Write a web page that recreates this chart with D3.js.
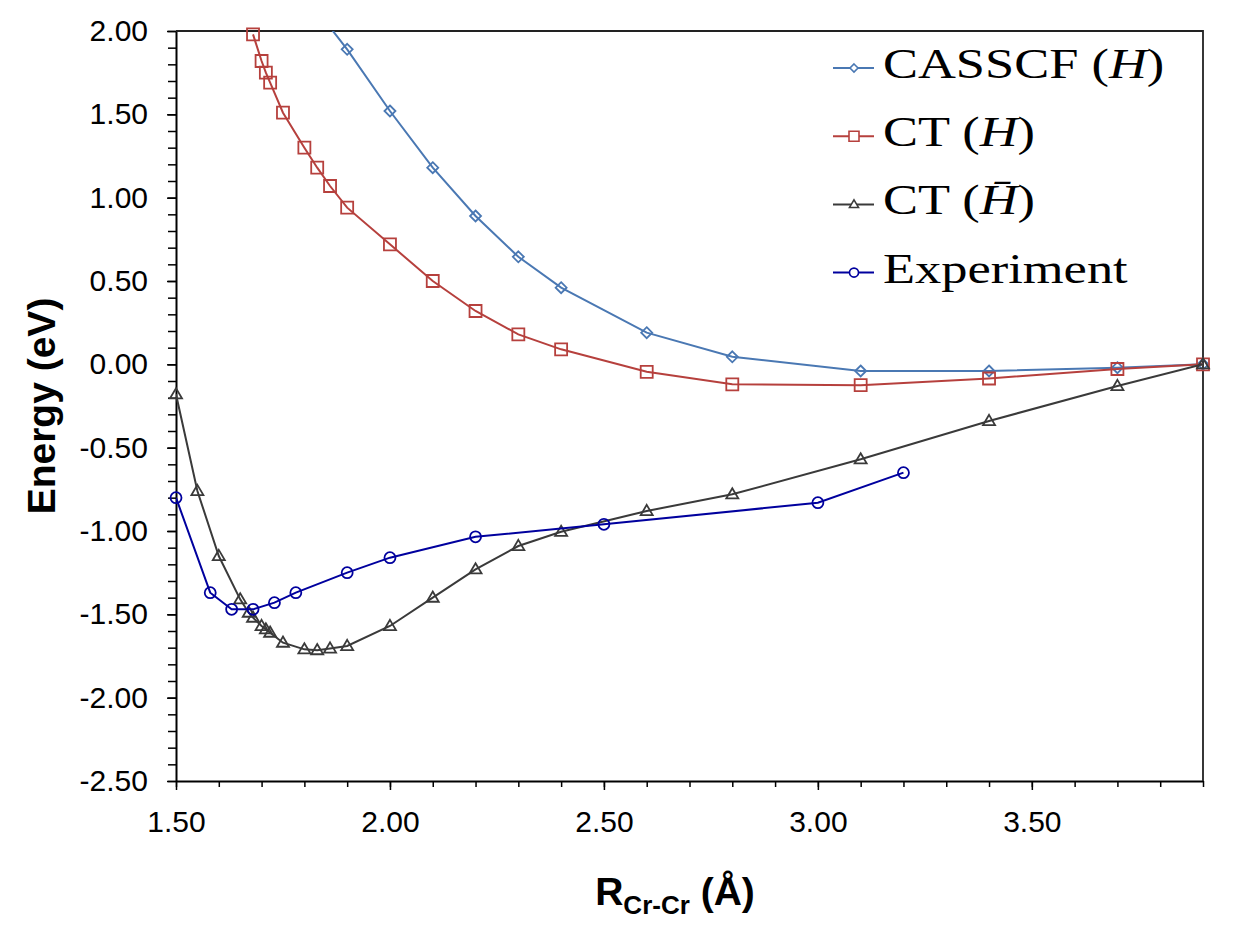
<!DOCTYPE html>
<html>
<head>
<meta charset="utf-8">
<script src="https://cdn.jsdelivr.net/npm/d3@7"></script>
<style>
  body { margin: 0; background: #fff; }
  svg { display: block; }
  .axis text { font-family: "Liberation Sans", Arial, Helvetica, sans-serif; font-size: 30px; fill: #000; }
  .axis path, .axis line { stroke: #000; }
  .title { font-family: "Liberation Sans", Arial, Helvetica, sans-serif; font-weight: bold; fill: #000; }
  .legend text { font-family: "Liberation Serif", "Times New Roman", serif; font-size: 43px; fill: #000; }
</style>
</head>
<body>
<svg id="chart" width="1251" height="932"></svg>
<script>
// values (R in Angstrom, E in eV)
const casscfR = [1.80, 1.90, 2.00, 2.10, 2.20, 2.30, 2.40, 2.60, 2.80, 3.10, 3.40, 3.70, 3.90];
const casscfE = [2.22, 1.89, 1.52, 1.18, 0.89, 0.645, 0.46, 0.19, 0.045, -0.04, -0.04, -0.02, 0.00];

const ctHR = [1.68, 1.70, 1.71, 1.72, 1.75, 1.80, 1.83, 1.86, 1.90, 2.00, 2.10, 2.20, 2.30, 2.40, 2.60, 2.80, 3.10, 3.40, 3.70, 3.90];
const ctHE = [1.98, 1.82, 1.75, 1.69, 1.51, 1.30, 1.18, 1.07, 0.94, 0.72, 0.50, 0.32, 0.18, 0.09, -0.045, -0.12, -0.125, -0.085, -0.028, 0.00];

const ctHbarR = [1.50, 1.55, 1.60, 1.65, 1.67, 1.68, 1.70, 1.71, 1.72, 1.75, 1.80, 1.83, 1.86, 1.90, 2.00, 2.10, 2.20, 2.30, 2.40, 2.60, 2.80, 3.10, 3.40, 3.70, 3.90];
const ctHbarE = [-0.18, -0.76, -1.15, -1.41, -1.49, -1.52, -1.57, -1.59, -1.61, -1.67, -1.71, -1.715, -1.705, -1.69, -1.57, -1.40, -1.23, -1.09, -1.005, -0.88, -0.78, -0.57, -0.34, -0.13, 0.00];

const exptR = [1.50, 1.58, 1.63, 1.68, 1.73, 1.78, 1.90, 2.00, 2.20, 2.50, 3.00, 3.20];
const exptE = [-0.80, -1.37, -1.47, -1.47, -1.43, -1.37, -1.25, -1.16, -1.035, -0.96, -0.83, -0.65];

const xTickLabels = [1.5, 2.0, 2.5, 3.0, 3.5];
const yTickLabels = [-2.5, -2.0, -1.5, -1.0, -0.5, 0.0, 0.5, 1.0, 1.5, 2.0];

const margin = { top: 31, right: 48, bottom: 151, left: 176 },
    width = 1251 - margin.left - margin.right,
    height = 932 - margin.top - margin.bottom;

const svg = d3.select("#chart")
    .append("g")
    .attr("transform", `translate(${margin.left},${margin.top})`);

const x = d3.scaleLinear().domain([1.5, 3.9]).range([0, width]);
const y = d3.scaleLinear().domain([-2.5, 2.0]).range([height, 0]);

// marker shapes
function diamond(s) { return `M0,${-s / 2}L${s / 2},0L0,${s / 2}L${-s / 2},0Z`; }
function square(s) { return `M${-s / 2},${-s / 2}h${s}v${s}h${-s}Z`; }
function triangle(s) { const h = s * 0.85; return `M0,${-h * 0.6}L${s / 2},${h * 0.4}L${-s / 2},${h * 0.4}Z`; }
function circle(s) { const r = s / 2; return `M${r},0A${r},${r} 0 1,1 ${-r},0A${r},${r} 0 1,1 ${r},0Z`; }

const series = [
    { name: "CASSCF", bar: false, r: casscfR, e: casscfE, color: "#4a78b3", shape: diamond, size: 11, legSize: 8 },
    { name: "CT", bar: false, r: ctHR, e: ctHE, color: "#b6403d", shape: square, size: 12, legSize: 10 },
    { name: "CT", bar: true, r: ctHbarR, e: ctHbarE, color: "#3a3a3a", shape: triangle, size: 12, legSize: 9 },
    { name: "Experiment", bar: null, r: exptR, e: exptE, color: "#00009e", shape: circle, size: 11, legSize: 9 }
];

svg.append("clipPath").attr("id", "plot-clip")
    .append("rect").attr("width", width).attr("height", height);

// minor ticks
svg.append("g")
    .attr("class", "axis")
    .attr("transform", `translate(0,${height})`)
    .call(d3.axisBottom(x).tickValues(d3.range(15, 40).map(i => i / 10)).tickSize(6).tickFormat(""))
    .call(g => g.select(".domain").remove())
    .selectAll("line").attr("stroke-width", 1.5);

svg.append("g")
    .attr("class", "axis")
    .call(d3.axisLeft(y).tickValues(d3.range(-25, 21).map(i => i / 10)).tickSize(8).tickFormat(""))
    .call(g => g.select(".domain").remove())
    .selectAll("line").attr("stroke-width", 1.5);

// major ticks + labels
svg.append("g")
    .attr("class", "axis")
    .attr("transform", `translate(0,${height})`)
    .call(d3.axisBottom(x).tickValues(xTickLabels).tickSize(9).tickSizeOuter(0).tickPadding(21).tickFormat(d => d.toFixed(2)))
    .call(g => g.select(".domain").attr("stroke-width", 2))
    .selectAll("line").attr("stroke-width", 1.5);

svg.append("g")
    .attr("class", "axis")
    .call(d3.axisLeft(y).tickValues(yTickLabels).tickSize(9).tickSizeOuter(0).tickPadding(19).tickFormat(d => d.toFixed(2)))
    .call(g => g.select(".domain").attr("stroke-width", 2))
    .selectAll("line").attr("stroke-width", 1.5);

// top and right frame
svg.append("path")
    .attr("d", `M0,0H${width}V${height}`)
    .attr("fill", "none")
    .attr("stroke", "#222")
    .attr("stroke-width", 1.8);

const line = d3.line().x(d => x(d[0])).y(d => y(d[1]));

series.forEach(s => {
    const pts = s.r.map((r, i) => [r, s.e[i]]);
    svg.append("path")
        .datum(pts)
        .attr("clip-path", "url(#plot-clip)")
        .attr("fill", "none")
        .attr("stroke", s.color)
        .attr("stroke-width", 2)
        .attr("d", line);

    svg.selectAll(null)
        .data(pts.filter(d => d[1] <= 2.0))
        .enter()
        .append("path")
        .attr("transform", d => `translate(${x(d[0])},${y(d[1])})`)
        .attr("d", s.shape(s.size))
        .attr("fill", "none")
        .attr("stroke", s.color)
        .attr("stroke-width", 1.8);
});

// axis titles
svg.append("text")
    .attr("class", "title")
    .attr("transform", `translate(${55 - margin.left},${height / 2}) rotate(-90)`)
    .attr("text-anchor", "middle")
    .style("font-size", "39px")
    .text("Energy (eV)");

const xt = svg.append("text")
    .attr("class", "title")
    .attr("x", 675 - margin.left)
    .attr("y", 905 - margin.top)
    .attr("text-anchor", "middle")
    .style("font-size", "39px");
xt.append("tspan").text("R");
xt.append("tspan").attr("dy", 9).style("font-size", "26px").text("Cr-Cr");
xt.append("tspan").attr("dy", -9).text(" (Å)");

// legend
const legend = svg.append("g").attr("class", "legend");
series.forEach((s, i) => {
    const ry = 37 + i * 68.2;
    legend.append("line")
        .attr("x1", 833 - margin.left).attr("x2", 874 - margin.left)
        .attr("y1", ry).attr("y2", ry)
        .attr("stroke", s.color).attr("stroke-width", 2);
    legend.append("path")
        .attr("transform", `translate(${854 - margin.left},${ry})`)
        .attr("d", s.shape(s.legSize))
        .attr("fill", "#fff")
        .attr("stroke", s.color)
        .attr("stroke-width", 1.6);
    const t = legend.append("text")
        .attr("transform", `translate(${883 - margin.left},${ry + 10}) scale(1.22,1)`);
    if (s.bar === null) {
        t.text(s.name);
    } else {
        t.append("tspan").text(s.name + " (");
        t.append("tspan").style("font-style", "italic").text(s.bar ? "H\u0304" : "H");
        t.append("tspan").text(")");
    }
});
</script>
</body>
</html>
